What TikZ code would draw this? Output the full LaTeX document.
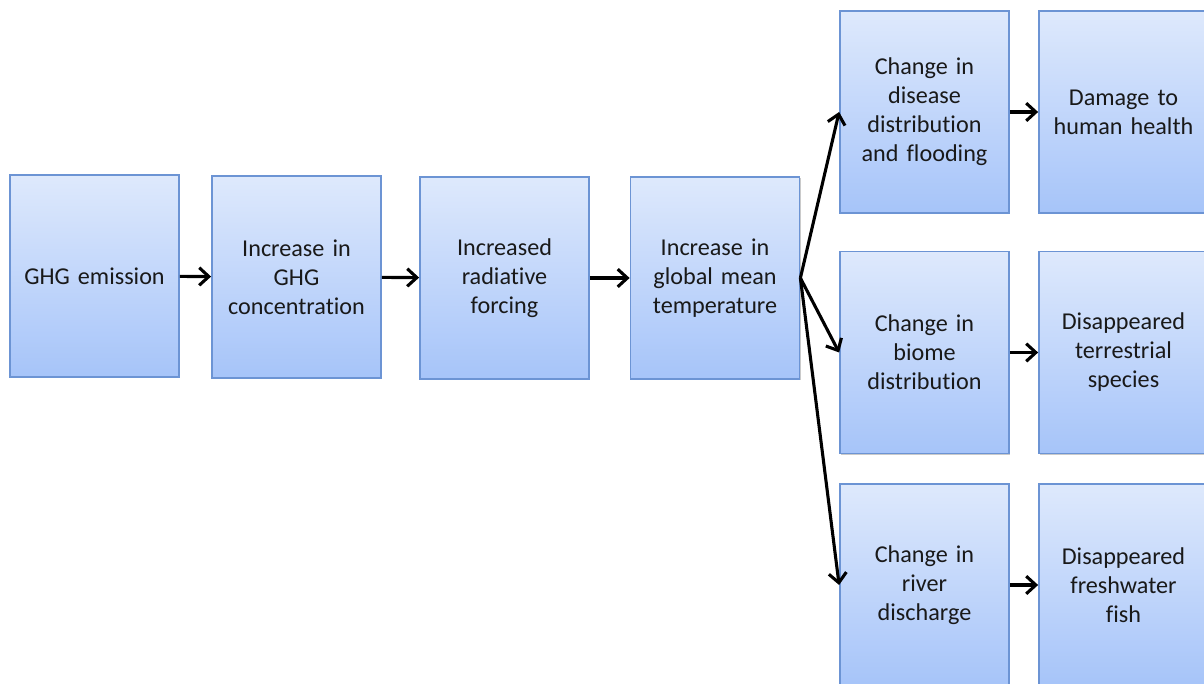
\documentclass[tikz,border=0pt]{standalone}
\usepackage{fontspec}
\setmainfont{Carlito}[Ligatures=NoCommon]
\usetikzlibrary{arrows.meta,shadows}

\definecolor{boxtop}{RGB}{222,233,252}
\definecolor{boxbottom}{RGB}{166,196,249}
\definecolor{boxline}{RGB}{108,148,212}
\definecolor{textgray}{RGB}{25,25,25}

\tikzset{
  stage/.style={draw=boxline, line width=1pt, top color=boxtop, bottom color=boxbottom,
    minimum width=4.2cm, minimum height=5.05cm, align=center, text width=4cm,
    text=textgray, font=\fontsize{17.2}{20.6}\selectfont,
    drop shadow={shadow xshift=0.6pt, shadow yshift=-0.8pt, opacity=0.35, fill=black!60}},
  link/.style={line width=2.2pt, -{Straight Barb[length=2.4mm, width=4.4mm, line width=2.2pt]}}
}

\begin{document}
\begin{tikzpicture}
  \useasboundingbox (0,0) rectangle (30.1,-17.1);

  % main chain
  \node[stage] (emission) at (2.3625,-6.9) {GHG emission};
  \node[stage] (concentration) at (7.4125,-6.925) {Increase in\\GHG\\concentration};
  \node[stage] (forcing) at (12.6125,-6.95) {Increased\\radiative\\forcing};
  \node[stage] (temperature) at (17.875,-6.95) {Increase in\\global mean\\temperature};

  % effects
  \node[stage] (disease) at (23.1125,-2.8) {Change in\\disease\\distribution\\and flooding};
  \node[stage] (biome) at (23.1125,-8.8125) {Change in\\biome\\distribution};
  \node[stage] (river) at (23.1125,-14.625) {Change in\\river\\discharge};

  % damages
  \node[stage] (health) at (28.0875,-2.8) {Damage to\\human health};
  \node[stage] (terrestrial) at (28.0875,-8.8125) {Disappeared\\terrestrial\\species};
  \node[stage] (fish) at (28.0875,-14.625) {Disappeared\\freshwater\\fish};

  \draw[link] (emission) -- (concentration);
  \draw[link] (concentration) -- (forcing);
  \draw[link] (forcing) -- (temperature);

  \draw[link] (temperature.east) -- (disease.west);
  \draw[link] (temperature.east) -- (biome.west);
  \draw[link] (temperature.east) -- (river.west);

  \draw[link] (disease) -- (health);
  \draw[link] (biome) -- (terrestrial);
  \draw[link] (river) -- (fish);
\end{tikzpicture}
\end{document}
